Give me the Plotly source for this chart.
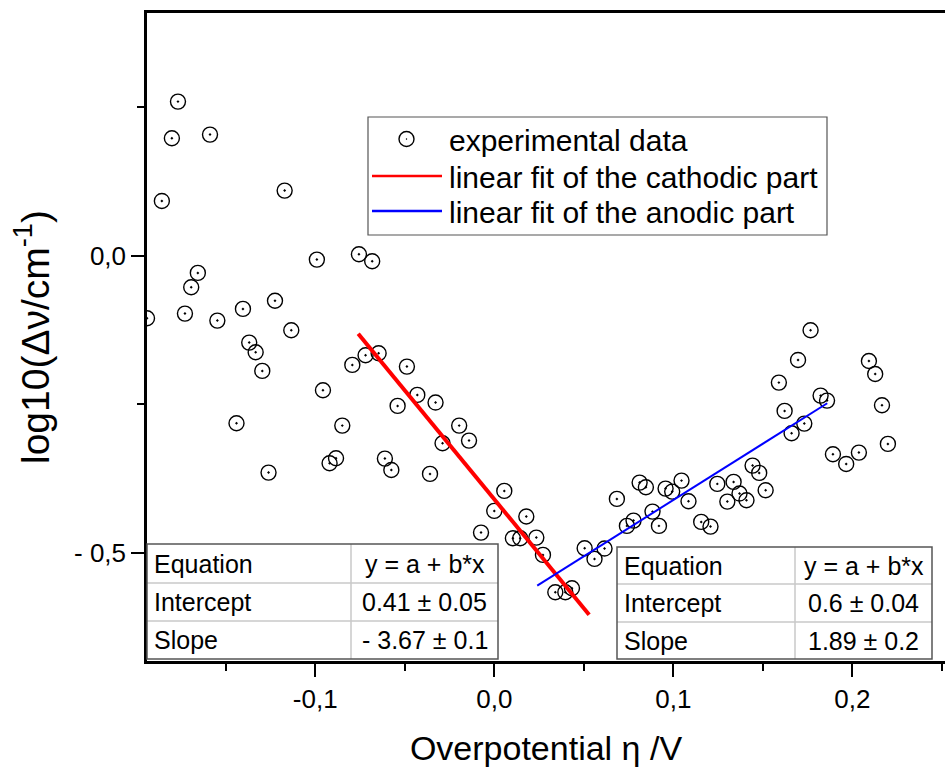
import plotly.graph_objects as go

# ---------------- data ----------------
eta = [-0.1940, -0.1857, -0.1801, -0.1767, -0.1728, -0.1693, -0.1656, -0.1588, -0.1547,
       -0.1440, -0.1404, -0.1369, -0.1333, -0.1296, -0.1261, -0.1225, -0.1171, -0.1134,
       -0.0991, -0.0957, -0.0920, -0.0884, -0.0849, -0.0793, -0.0756, -0.0719, -0.0682,
       -0.0646, -0.0611, -0.0575, -0.0540, -0.0488, -0.0430, -0.0359, -0.0328, -0.0289,
       -0.0196, -0.0141, -0.0074, 0.0000, 0.0056, 0.0104, 0.0145, 0.0179, 0.0235, 0.0272,
       0.0341, 0.0397, 0.0434, 0.0505, 0.0560, 0.0616, 0.0685, 0.0741, 0.0778, 0.0812,
       0.0847, 0.0884, 0.0920, 0.0957, 0.0994, 0.1046, 0.1085, 0.1156, 0.1208, 0.1246,
       0.1302, 0.1337, 0.1370, 0.1409, 0.1443, 0.1480, 0.1516, 0.1590, 0.1622, 0.1661,
       0.1697, 0.1732, 0.1767, 0.1823, 0.1859, 0.1892, 0.1966, 0.2037, 0.2093, 0.2128,
       0.2166, 0.2199]
log_dnu = [-0.1049, 0.0926, 0.1981, 0.2598, -0.0971, -0.0527, -0.0286, 0.2043, -0.1089,
           -0.2817, -0.0892, -0.1459, -0.1622, -0.1936, -0.3648, -0.0754, 0.1100, -0.1251,
           -0.0062, -0.2261, -0.3490, -0.3406, -0.2857, -0.1835, 0.0028, -0.1672, -0.0090,
           -0.1638, -0.3412, -0.3603, -0.2525, -0.1863, -0.2340, -0.3670, -0.2469, -0.3154,
           -0.2857, -0.3109, -0.4658, -0.4293, -0.3956, -0.4753, -0.4753, -0.4388, -0.4742,
           -0.5034, -0.5662, -0.5662, -0.5595, -0.4921, -0.5101, -0.4927, -0.4091, -0.4545,
           -0.4456, -0.3816, -0.3894, -0.4305, -0.4545, -0.3917, -0.3968, -0.3783, -0.4130,
           -0.4478, -0.4557, -0.3838, -0.4136, -0.3805, -0.4001, -0.4113, -0.3530, -0.3653,
           -0.3945, -0.2133, -0.2609, -0.2985, -0.1751, -0.2823, -0.1251, -0.2352, -0.2436,
           -0.3339, -0.3502, -0.3311, -0.1768, -0.1987, -0.2513, -0.3165]

cath_fit_x = [-0.076, 0.053]
cath_fit_y = [-0.131, -0.604]
anod_fit_x = [0.024, 0.186]
anod_fit_y = [-0.555, -0.248]

series_names = ["experimental data", "linear fit of the cathodic part", "linear fit of the anodic part"]

x_tickvals = [-0.1, 0.0, 0.1, 0.2]
x_ticktext = ["-0,1", "0,0", "0,1", "0,2"]
y_tickvals = [0.0, -0.5]
y_ticktext = ["0,0", "- 0,5"]

table_rows = ["Equation", "Intercept", "Slope"]
cath_table_vals = ["y = a + b*x", "0.41 ± 0.05", "- 3.67 ± 0.1"]
anod_table_vals = ["y = a + b*x", "0.6 ± 0.04", "1.89 ± 0.2"]

# ---------------- layout geometry ----------------
W, H = 945, 768
L, R, T, B = 147, 945, 13, 661
FONT = "Liberation Sans, Arial, sans-serif"


def px(xp):
    return (xp - L) / (R - L)


def py(yp):
    return (B - yp) / (B - T)


fig = go.Figure()
fig.add_trace(go.Scatter(
    x=eta, y=log_dnu, mode="markers", name=series_names[0], showlegend=False,
    marker=dict(symbol="circle-open-dot", size=15, color="black", line=dict(width=1.4, color="black")),
))
fig.add_trace(go.Scatter(
    x=cath_fit_x, y=cath_fit_y, mode="lines", name=series_names[1], showlegend=False,
    line=dict(color="#ff0000", width=4),
))
fig.add_trace(go.Scatter(
    x=anod_fit_x, y=anod_fit_y, mode="lines", name=series_names[2], showlegend=False,
    line=dict(color="#0000ff", width=2),
))

shapes = []
annotations = []

# ---------------- legend box (drawn by hand to match the reference look) ----------------
LEG_X0, LEG_X1, LEG_Y0, LEG_Y1 = 368, 827, 117, 235
leg_rows_y = [139, 176, 211]
shapes.append(dict(type="rect", xref="paper", yref="paper", x0=px(LEG_X0), x1=px(LEG_X1),
                   y0=py(LEG_Y1), y1=py(LEG_Y0), fillcolor="white",
                   line=dict(color="#555555", width=1.2), layer="above"))
shapes.append(dict(type="circle", xref="paper", yref="paper", x0=px(399), x1=px(414),
                   y0=py(leg_rows_y[0] + 7.5), y1=py(leg_rows_y[0] - 7.5),
                   line=dict(color="black", width=1.4), layer="above"))
shapes.append(dict(type="circle", xref="paper", yref="paper", x0=px(406), x1=px(407),
                   y0=py(leg_rows_y[0] + 0.5), y1=py(leg_rows_y[0] - 0.5),
                   fillcolor="black", line=dict(color="black", width=0.5), layer="above"))
shapes.append(dict(type="line", xref="paper", yref="paper", x0=px(372), x1=px(442),
                   y0=py(leg_rows_y[1]), y1=py(leg_rows_y[1]),
                   line=dict(color="#ff0000", width=2.5), layer="above"))
shapes.append(dict(type="line", xref="paper", yref="paper", x0=px(372), x1=px(442),
                   y0=py(leg_rows_y[2]), y1=py(leg_rows_y[2]),
                   line=dict(color="#0000ff", width=2.5), layer="above"))
for name, yc in zip(series_names, leg_rows_y):
    annotations.append(dict(xref="paper", yref="paper", x=px(447), y=py(yc + 1), text=name,
                            showarrow=False, xanchor="left", yanchor="middle",
                            font=dict(family=FONT, size=30, color="black")))


def add_table(xe, ye, vals):
    x0, xm, x1 = xe
    shapes.append(dict(type="rect", xref="paper", yref="paper", x0=px(x0), x1=px(x1), y0=py(ye[-1]), y1=py(ye[0]),
                       fillcolor="white", line=dict(width=0), layer="above"))
    for yl in ye[1:-1]:
        shapes.append(dict(type="line", xref="paper", yref="paper", x0=px(x0), x1=px(x1), y0=py(yl), y1=py(yl),
                           line=dict(color="#c8c8c8", width=1.5), layer="above"))
    shapes.append(dict(type="line", xref="paper", yref="paper", x0=px(xm), x1=px(xm), y0=py(ye[-1]), y1=py(ye[0]),
                       line=dict(color="#c8c8c8", width=1.5), layer="above"))
    shapes.append(dict(type="rect", xref="paper", yref="paper", x0=px(x0), x1=px(x1), y0=py(ye[-1]), y1=py(ye[0]),
                       line=dict(color="#555555", width=1.5), layer="above"))
    for i in range(3):
        yc = (ye[i] + ye[i + 1]) / 2
        annotations.append(dict(xref="paper", yref="paper", x=px(x0 + 5), y=py(yc), text=table_rows[i],
                                showarrow=False, xanchor="left", yanchor="middle",
                                font=dict(family=FONT, size=25, color="black")))
        annotations.append(dict(xref="paper", yref="paper", x=px((xm + x1) / 2), y=py(yc), text=vals[i],
                                showarrow=False, xanchor="center", yanchor="middle",
                                font=dict(family=FONT, size=25, color="black")))


add_table([147, 351, 498], [544, 583, 621, 659], cath_table_vals)
add_table([617, 795, 932], [547, 584, 622, 659], anod_table_vals)

fig.update_layout(
    width=W, height=H,
    margin=dict(l=L, r=W - R, t=T, b=H - B, autoexpand=False),
    paper_bgcolor="white", plot_bgcolor="white",
    font=dict(family=FONT, color="black"),
    showlegend=False,
    shapes=shapes, annotations=annotations,
    xaxis=dict(
        range=[-0.194, 0.2518], showgrid=False, zeroline=False,
        showline=True, linecolor="black", linewidth=2.5, mirror=True,
        ticks="outside", ticklen=13, tickwidth=2, tickcolor="black",
        tickvals=x_tickvals, ticktext=x_ticktext,
        tickfont=dict(family=FONT, size=26, color="black"),
        minor=dict(ticks="outside", ticklen=7, tickwidth=2, tickcolor="black", dtick=0.05, tick0=0),
        title=dict(text="Overpotential η /V", font=dict(family=FONT, size=34, color="black"), standoff=24),
    ),
    yaxis=dict(
        range=[-0.682, 0.409], showgrid=False, zeroline=False,
        showline=True, linecolor="black", linewidth=2.5, mirror=False,
        ticks="outside", ticklen=13, tickwidth=2, tickcolor="black",
        tickvals=y_tickvals, ticktext=y_ticktext,
        tickfont=dict(family=FONT, size=26, color="black"),
        minor=dict(ticks="outside", ticklen=7, tickwidth=2, tickcolor="black", dtick=0.25, tick0=0),
        title=dict(text="log10(Δν/cm<sup>-1</sup>)", font=dict(family=FONT, size=39, color="black"), standoff=13),
    ),
)

fig.write_html("out.html")
